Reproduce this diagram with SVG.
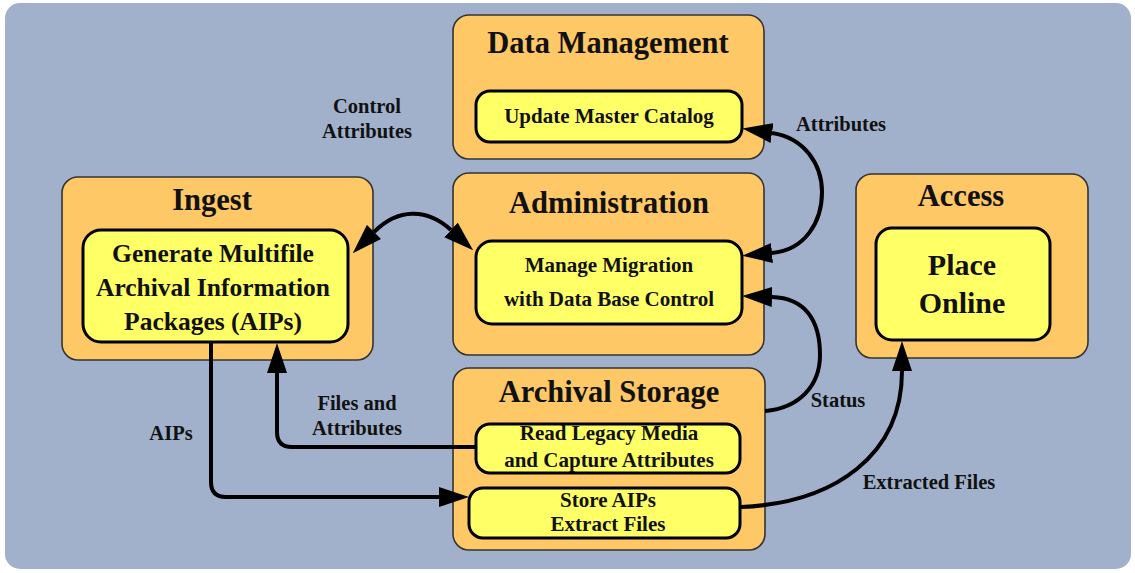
<svg xmlns="http://www.w3.org/2000/svg" width="1135" height="573" viewBox="0 0 1135 573">
<style>
.outer{fill:#FEC867;stroke:#333;stroke-width:1.6}
.inner{fill:#FFFF66;stroke:#000;stroke-width:3}
text{font-family:"Liberation Serif","Times New Roman",serif;font-weight:bold;fill:#111;text-anchor:middle}
.t{font-size:30.5px}
.s{font-size:21px}
.m{font-size:25.5px}
.l{font-size:30px}
.lab{font-size:20.5px}
.c{fill:none;stroke:#000;stroke-width:4}
</style>
<defs>
<marker id="ah" markerUnits="userSpaceOnUse" markerWidth="30" markerHeight="20" viewBox="0 0 30 20" refX="0" refY="10" orient="auto-start-reverse">
<path d="M0,0 L30,10 L0,20 z" fill="#000"/>
</marker>
</defs>
<rect x="5" y="3" width="1126" height="566" rx="15" fill="#A2B1CB"/>
<g id="data-management">
<rect class="outer" x="453" y="15" width="311" height="144" rx="16"/>
<text class="t" x="608" y="53">Data Management</text>
<rect class="inner" x="476" y="91" width="266" height="51" rx="14"/>
<text class="s" x="609" y="123">Update Master Catalog</text>
</g>
<g id="ingest">
<rect class="outer" x="62" y="177" width="311" height="183" rx="16"/>
<text class="t" x="212" y="210">Ingest</text>
<rect class="inner" x="83" y="230" width="265" height="112" rx="18"/>
<text class="m" x="213" y="262">Generate Multifile</text>
<text class="m" x="213" y="296">Archival Information</text>
<text class="m" x="213" y="330">Packages (AIPs)</text>
</g>
<g id="administration">
<rect class="outer" x="453" y="173" width="311" height="182" rx="16"/>
<text class="t" x="609" y="213">Administration</text>
<rect class="inner" x="476" y="241" width="266" height="83" rx="16"/>
<text class="s" x="609" y="272">Manage Migration</text>
<text class="s" x="609" y="306">with Data Base Control</text>
</g>
<g id="access">
<rect class="outer" x="856" y="174" width="232" height="184" rx="16"/>
<text class="t" x="961" y="206">Access</text>
<rect class="inner" x="876" y="228" width="174" height="112" rx="16"/>
<text class="l" x="962" y="275">Place</text>
<text class="l" x="962" y="313">Online</text>
</g>
<g id="archival-storage">
<rect class="outer" x="453" y="368" width="312" height="182" rx="16"/>
<text class="t" x="609" y="402">Archival Storage</text>
<rect class="inner" x="476" y="424" width="264" height="49" rx="14"/>
<text class="s" x="609" y="440">Read Legacy Media</text>
<text class="s" x="609" y="467">and Capture Attributes</text>
<rect class="inner" x="469" y="488" width="271" height="50" rx="14"/>
<text class="s" x="608" y="507">Store AIPs</text>
<text class="s" x="608" y="531">Extract Files</text>
</g>
<g id="connectors">
<path class="c" d="M772,133 C805,138 822,165 822,192 C822,222 805,250 772,253" marker-start="url(#ah)" marker-end="url(#ah)"/>
<path class="c" d="M765,411 C800,408 820,385 820,355 C820,320 805,298 772,297" marker-end="url(#ah)"/>
<path class="c" d="M741,507 C835,503 902,455 902,371" marker-end="url(#ah)"/>
<path class="c" d="M374,232 C398,208 427,208 451,230" marker-start="url(#ah)" marker-end="url(#ah)"/>
<path class="c" d="M476,447 H292 Q277,447 277,432 V373" marker-end="url(#ah)"/>
<path class="c" d="M211,342 V482 Q211,497 226,497 H439" marker-end="url(#ah)"/>
</g>
<g id="labels">
<text class="lab" x="367" y="113">Control</text>
<text class="lab" x="367" y="138">Attributes</text>
<text class="lab" x="841" y="131">Attributes</text>
<text class="lab" x="357" y="410">Files and</text>
<text class="lab" x="357" y="435">Attributes</text>
<text class="lab" x="171" y="440">AIPs</text>
<text class="lab" x="838" y="407">Status</text>
<text class="lab" x="929" y="489">Extracted Files</text>
</g>
</svg>
